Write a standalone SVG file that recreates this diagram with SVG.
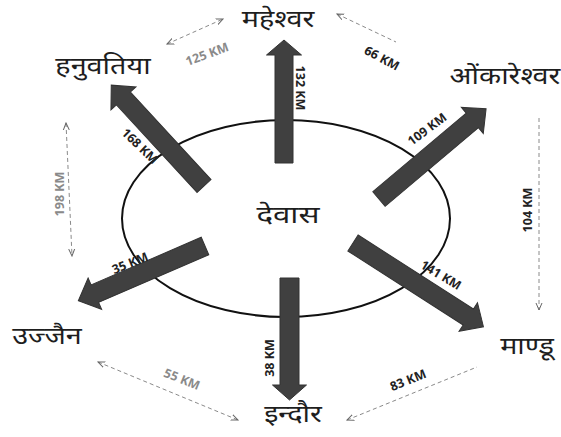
<svg xmlns="http://www.w3.org/2000/svg" width="561" height="437" viewBox="0 0 561 437">
<style>
.city{font-family:"Noto Sans","Noto Sans Devanagari",sans-serif;font-size:24px;font-weight:normal;fill:#1e1e1e;text-anchor:middle}
.arr{fill:#404040;stroke:#333;stroke-width:1}
.lbl{font-family:"Open Sans","Liberation Sans",sans-serif;font-weight:bold;font-size:12.5px;fill:#222;text-anchor:middle;dominant-baseline:central}
.lbl.g{fill:#8a8a8a}
.dist{stroke:#8a8a8a;stroke-width:1;stroke-dasharray:4 3;fill:none}
</style>
<defs>
<marker id="ah" viewBox="0 0 8 8" refX="7" refY="4" markerWidth="8" markerHeight="8" orient="auto-start-reverse" markerUnits="userSpaceOnUse">
<path d="M0,1 L7,4 L0,7" fill="none" stroke="#666" stroke-width="1"/>
</marker>
</defs>
<g id="devas">
<ellipse cx="286" cy="218.5" rx="164" ry="98.5" fill="none" stroke="#111" stroke-width="2"/>
<text class="city" transform="translate(288,223) scale(1.3,1)" font-size="21">देवास</text>
</g>
<g id="connectors">
<polygon class="arr" transform="translate(284,163) rotate(-90)" points="0,-9 108,-9 108,-17.5 123,0 108,17.5 108,9 0,9"/>
<polygon class="arr" transform="translate(289.5,278) rotate(90)" points="0,-9.5 107,-9.5 107,-17 122,0 107,17 107,9.5 0,9.5"/>
<polygon class="arr" transform="translate(204,186) rotate(-132.6)" points="0,-9.5 119,-9.5 119,-17 137,0 119,17 119,9.5 0,9.5"/>
<polygon class="arr" transform="translate(379,199) rotate(-40.1)" points="0,-9.5 122,-9.5 122,-17 140,0 122,17 122,9.5 0,9.5"/>
<polygon class="arr" transform="translate(205,246) rotate(156.6)" points="0,-9.5 120,-9.5 120,-17 138,0 120,17 120,9.5 0,9.5"/>
<polygon class="arr" transform="translate(353,243) rotate(32.7)" points="0,-9.5 137,-9.5 137,-17 155,0 137,17 137,9.5 0,9.5"/>
<text class="lbl" transform="translate(300,88) rotate(90)">132 KM</text>
<text class="lbl" transform="translate(269,358) rotate(-90)">38 KM</text>
<text class="lbl" transform="translate(140,146) rotate(44)">168 KM</text>
<text class="lbl" transform="translate(427,129) rotate(-37)">109 KM</text>
<text class="lbl" transform="translate(130,263) rotate(-22)">35 KM</text>
<text class="lbl" transform="translate(441,275) rotate(31)">141 KM</text>
<line class="dist" x1="167" y1="44" x2="223" y2="19" marker-start="url(#ah)" marker-end="url(#ah)"/>
<text class="lbl g" transform="translate(207,54) rotate(-20)">125 KM</text>
<line class="dist" x1="337" y1="14" x2="396" y2="42" stroke="#ccc" marker-start="url(#ah)"/>
<text class="lbl" transform="translate(382,58) rotate(28)">66 KM</text>
<line class="dist" x1="539" y1="118" x2="539" y2="310" stroke-dasharray="none" stroke="#aaa" marker-end="url(#ah)"/>
<text class="lbl" transform="translate(527,210) rotate(-90)">104 KM</text>
<line class="dist" x1="66" y1="123" x2="72" y2="256" marker-start="url(#ah)" marker-end="url(#ah)"/>
<text class="lbl g" transform="translate(59,194) rotate(-90)">198 KM</text>
<line class="dist" x1="98" y1="362" x2="238" y2="420" marker-start="url(#ah)" marker-end="url(#ah)"/>
<text class="lbl g" transform="translate(182,379) rotate(22)">55 KM</text>
<line class="dist" x1="347" y1="420" x2="477" y2="367" stroke="#bbb" marker-start="url(#ah)"/>
<text class="lbl" transform="translate(408,380) rotate(-22)">83 KM</text>
</g>
<g id="maheshwar"><text class="city" transform="translate(278,27) scale(1.2,1)">महेश्वर</text></g>
<g id="hanuvatiya"><text class="city" transform="translate(103,74) scale(1.2,1)">हनुवतिया</text></g>
<g id="omkareshwar"><text class="city" transform="translate(505,84) scale(1.2,1)">ओंकारेश्वर</text></g>
<g id="ujjain"><text class="city" transform="translate(47,344) scale(1.2,1)">उज्जैन</text></g>
<g id="mandu"><text class="city" transform="translate(527,354) scale(1.2,1)">माण्डू</text></g>
<g id="indore"><text class="city" transform="translate(293,422) scale(1.2,1)">इन्दौर</text></g>
</svg>
